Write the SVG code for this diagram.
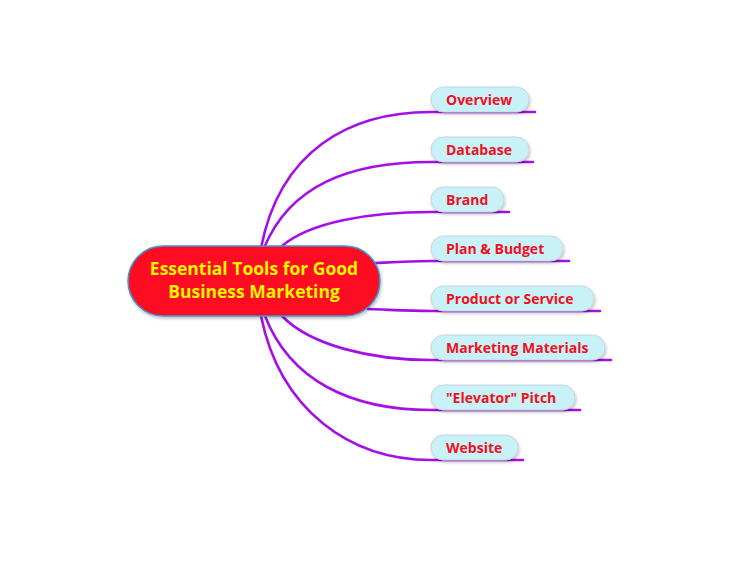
<svg xmlns="http://www.w3.org/2000/svg" width="750" height="562" viewBox="0 0 750 562">
<defs>
<filter id="sh" x="-10%" y="-30%" width="130%" height="170%">
<feDropShadow dx="1" dy="2" stdDeviation="1.5" flood-color="#000" flood-opacity="0.25"/>
</filter>
</defs>
<style>
.c{fill:none;stroke:#a40fe6;stroke-width:2.6;stroke-linecap:round}
.n{fill:#c9f1f8;stroke:#c8d4dc;stroke-width:1;filter:url(#sh)}
.t{font-family:"Open Sans",Lato,sans-serif;font-weight:bold;font-size:14px;fill:#f0101e}
.m{fill:#fe0a22;stroke:#3a9ad8;stroke-width:1.5;filter:url(#sh)}
.mt{font-family:"Open Sans",Lato,sans-serif;font-weight:bold;font-size:17.5px;fill:#f2f500;text-anchor:middle}
</style>
<rect width="750" height="562" fill="#fff"/>
<g id="connectors">
<path class="c" d="M261,248 C280,150 350,112 431,112 L535,112"/>
<path class="c" d="M264,248 C290,185 350,162 431,162 L533,162"/>
<path class="c" d="M282,246 C310,222 370,212 431,212 L509,212"/>
<path class="c" d="M376,263 C395,262 410,261 431,261 L569,261"/>
<path class="c" d="M368,309 C395,310 410,311 431,311 L600,311"/>
<path class="c" d="M282,316 C310,345 370,360 431,360 L611,360"/>
<path class="c" d="M265,316 C290,380 350,410 431,410 L580,410"/>
<path class="c" d="M261,316 C280,410 350,460 431,460 L523,460"/>
</g>
<g id="center">
<rect class="m" x="128" y="246" width="252" height="70" rx="35"/>
<text class="mt" x="254" y="275">Essential Tools for Good</text>
<text class="mt" x="254" y="298">Business Marketing</text>
</g>
<g id="n1"><rect class="n" x="431" y="87" width="98" height="25" rx="12.5"/><text class="t" x="446" y="105">Overview</text></g>
<g id="n2"><rect class="n" x="431" y="137" width="98" height="25" rx="12.5"/><text class="t" x="446" y="155">Database</text></g>
<g id="n3"><rect class="n" x="431" y="187" width="73" height="25" rx="12.5"/><text class="t" x="446" y="205">Brand</text></g>
<g id="n4"><rect class="n" x="431" y="236" width="132" height="25" rx="12.5"/><text class="t" x="446" y="254">Plan &amp; Budget</text></g>
<g id="n5"><rect class="n" x="431" y="286" width="163" height="25" rx="12.5"/><text class="t" x="446" y="304">Product or Service</text></g>
<g id="n6"><rect class="n" x="431" y="335" width="174" height="25" rx="12.5"/><text class="t" x="446" y="353">Marketing Materials</text></g>
<g id="n7"><rect class="n" x="431" y="385" width="144" height="25" rx="12.5"/><text class="t" x="446" y="403">"Elevator" Pitch</text></g>
<g id="n8"><rect class="n" x="431" y="435" width="87" height="25" rx="12.5"/><text class="t" x="446" y="453">Website</text></g>
</svg>
